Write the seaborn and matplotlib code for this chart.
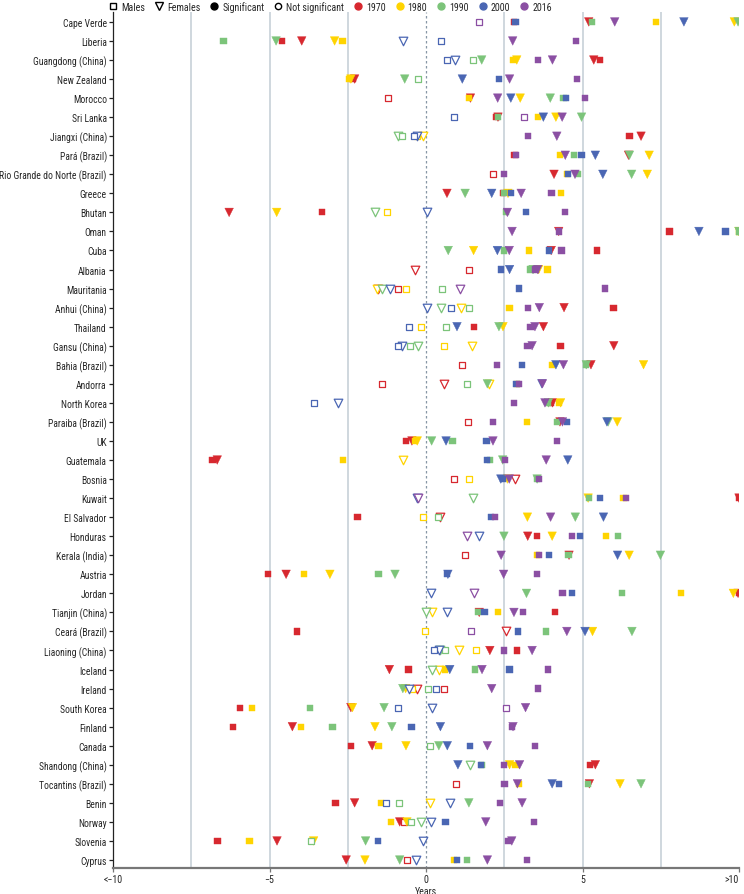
import matplotlib
matplotlib.use("Agg")
import matplotlib.pyplot as plt
from matplotlib import font_manager as fm
from matplotlib.lines import Line2D
import seaborn as sns
import pandas as pd

countries = ["Cape Verde", "Liberia", "Guangdong (China)", "New Zealand", "Morocco", "Sri Lanka",
             "Jiangxi (China)", "Pará (Brazil)", "Rio Grande do Norte (Brazil)", "Greece", "Bhutan",
             "Oman", "Cuba", "Albania", "Mauritania", "Anhui (China)", "Thailand", "Gansu (China)",
             "Bahia (Brazil)", "Andorra", "North Korea", "Paraiba (Brazil)", "UK", "Guatemala",
             "Bosnia", "Kuwait", "El Salvador", "Honduras", "Kerala (India)", "Austria", "Jordan",
             "Tianjin (China)", "Ceará (Brazil)", "Liaoning (China)", "Iceland", "Ireland",
             "South Korea", "Finland", "Canada", "Shandong (China)", "Tocantins (Brazil)", "Benin",
             "Norway", "Slovenia", "Cyprus"]

years = ["1970", "1980", "1990", "2000", "2016"]
year_colors = ["#d7282f", "#ffd400", "#7cc47a", "#4a66b3", "#8b4fa3"]

# Males (values in years, clipped at +/-10)
m1970 = [2.8, -4.59, 5.56, -2.35, -1.22, 2.25, 6.50, 2.83, 2.13, 2.45, -3.33, 7.78, 5.47, 1.37, -0.90,
         5.99, 1.53, 4.30, 1.14, -1.41, 4.00, 1.35, -0.65, -6.82, 0.91, 10, -2.19, 3.54, 1.26, -5.06,
         10, 4.12, -4.12, 2.90, -0.56, 0.58, -5.93, -6.17, -2.40, 5.24, 0.96, -2.89, -0.71, -6.66, -0.61]
m1980 = [7.34, -2.67, 2.78, -2.45, 1.38, 3.57, -0.30, 4.27, 4.50, 4.32, -1.26, 10, 3.30, 3.88, -0.65,
         2.67, -0.17, 0.56, 4.03, 2.90, 4.25, 3.22, -0.35, -2.64, 1.38, 6.31, -0.08, 5.76, 3.55, -3.89,
         8.15, 2.29, -0.03, 1.60, 0.61, -0.45, -5.56, -4.00, -1.52, 2.86, 2.96, -1.44, -1.12, -5.64, 0.90]
m1990 = [5.30, -6.47, 1.49, -0.24, 4.39, 2.30, -0.76, 4.73, 4.86, 2.50, 2.55, 10, 2.48, 3.34, 0.52,
         1.37, 0.64, -0.52, 5.10, 1.31, 3.90, 4.18, 0.85, 2.05, 3.55, 5.22, 0.38, 6.14, 4.55, -1.52,
         6.25, 1.65, 3.83, 0.62, 1.57, 0.06, -3.71, -2.99, 0.12, 1.80, 5.18, -0.85, -0.47, -3.68, 1.32]
m2000 = [2.86, 0.49, 0.68, 2.33, 4.48, 0.90, -0.38, 4.97, 4.53, 2.72, 3.19, 9.57, 3.92, 2.39, 2.98,
         0.79, -0.55, -0.91, 3.07, 2.89, -3.59, 4.51, 1.93, 1.96, 2.45, 5.55, 2.08, 4.91, 3.94, 0.66,
         4.67, 1.87, 2.93, 0.26, 2.67, 0.33, -0.91, -0.46, 1.40, 1.75, 4.24, -1.29, 0.62, -1.53, 1.00]
m2016 = [1.70, 4.80, 3.59, 4.82, 5.08, 3.12, 3.27, 2.88, 2.48, 4.01, 4.45, 4.24, 4.33, 3.50, 5.73,
         3.27, 3.34, 3.24, 2.28, 2.96, 2.81, 2.13, 4.18, 2.52, 3.60, 6.40, 2.20, 4.67, 3.62, 3.54,
         4.36, 3.10, 1.44, 2.49, 3.91, 3.59, 2.55, 2.75, 3.48, 2.49, 2.51, 2.37, 3.45, 2.63, 3.22]

# Females
f1970 = [5.20, -3.97, 5.36, -2.28, 1.42, 2.30, 6.87, 6.47, 4.09, 0.67, -6.29, 4.24, 4.00, -0.36, -1.52,
         4.41, 3.75, 6.00, 5.27, 0.58, 4.04, 4.28, -0.45, -6.67, 2.84, 10, 0.45, 3.25, 4.57, -4.47,
         9.97, 1.70, 2.55, 2.04, -1.17, -0.29, -2.40, -4.27, -1.72, 5.41, 5.22, -2.28, -0.84, -4.76, -2.55]
f1980 = [9.85, -2.92, 2.90, -2.40, 3.01, 4.15, -0.11, 7.13, 7.07, 2.62, -4.77, 10, 1.52, 3.60, -1.57,
         1.11, 2.46, 1.47, 6.95, 2.00, 4.30, 6.11, -0.28, -0.74, 2.60, 5.18, 3.24, 4.03, 6.49, -3.07,
         9.82, 0.18, 5.32, 1.05, 0.40, -0.65, -2.35, -1.63, -0.64, 2.67, 6.20, 0.14, -0.61, -3.59, -1.95]
f1990 = [9.97, -4.79, 1.78, -0.68, 3.97, 4.97, -0.90, 6.50, 6.57, 1.25, -1.64, 10, 0.71, 3.42, -1.40,
         0.47, 2.33, -0.24, 5.12, 1.96, 3.91, 5.82, 0.18, 2.45, 3.55, 1.49, 4.77, 2.49, 7.49, -0.99,
         3.21, 0.00, 6.58, 0.45, 0.18, -0.74, -1.34, -1.09, 0.41, 1.41, 6.87, 1.37, -0.15, -1.93, -0.84]
f2000 = [8.24, -0.73, 0.93, 1.16, 2.71, 3.75, -0.29, 5.41, 5.65, 2.10, 0.02, 8.72, 2.28, 2.67, -1.14,
         0.03, 0.99, -0.76, 4.15, 3.70, -2.80, 5.78, 0.64, 4.53, 2.39, -0.30, 5.67, 1.70, 6.12, 0.70,
         0.15, 0.67, 5.08, 0.41, 0.76, -0.55, 0.18, 0.46, 0.68, 1.02, 4.03, 0.76, 0.15, -0.09, -0.32]
f2016 = [6.03, 2.77, 4.04, 2.67, 2.29, 4.35, 4.18, 4.45, 4.76, 3.04, 2.60, 2.75, 2.66, 3.57, 1.09,
         3.62, 3.48, 3.39, 4.39, 3.72, 3.80, 4.36, 2.14, 3.84, 2.66, -0.27, 3.98, 1.32, 2.40, 2.48,
         1.52, 2.81, 4.50, 3.39, 1.79, 2.10, 3.18, 2.78, 1.96, 2.99, 2.92, 3.07, 1.91, 2.74, 1.96]

# Significance flags (1 = significant, 0 = not significant), one per country
m1970_sig = "11110 11101 11100 11100 10110 11101 11111 01111 01010"
m1980_sig = "11111 10111 01110 10011 11110 10111 11001 01111 11111"
m1990_sig = "11001 10111 11110 00010 11111 10111 11101 01101 10001"
m2000_sig = "10011 00111 11111 00011 01111 11111 11101 00111 10111"
m2016_sig = "01111 01111 11111 11111 11111 11111 11011 10111 11111"
f1970_sig = "11111 11111 11100 11110 11110 10111 11011 01111 11111"
f1980_sig = "11111 10111 11110 01010 11101 11111 10100 11111 10111"
f1990_sig = "11111 10111 01110 01011 11111 01111 10100 11110 11011"
f2000_sig = "10011 10111 01110 01011 01111 01011 00101 00111 10000"
f2016_sig = "11111 11111 11110 11111 11111 01011 01111 11111 11111"

xticks = [-10, -5, 0, 5, 10]
xticklabels = ["<\u221210", "\u22125", "0", "5", ">10"]

series = {
    ("Males", "1970"): (m1970, m1970_sig), ("Males", "1980"): (m1980, m1980_sig),
    ("Males", "1990"): (m1990, m1990_sig), ("Males", "2000"): (m2000, m2000_sig),
    ("Males", "2016"): (m2016, m2016_sig),
    ("Females", "1970"): (f1970, f1970_sig), ("Females", "1980"): (f1980, f1980_sig),
    ("Females", "1990"): (f1990, f1990_sig), ("Females", "2000"): (f2000, f2000_sig),
    ("Females", "2016"): (f2016, f2016_sig),
}

rows = []
for (sex, yr), (vals, sig) in series.items():
    flags = sig.replace(" ", "")
    for i, (c, v) in enumerate(zip(countries, vals)):
        rows.append(dict(country=c, row=i, sex=sex, year=yr, value=v, sig=flags[i] == "1"))
df = pd.DataFrame(rows)

sns.set_theme(style="white")

# pick a narrow font if one is installed
family, stretch = "DejaVu Sans", "condensed"
for fam in ["Roboto Condensed", "Liberation Sans Narrow", "Noto Sans Condensed",
            "Open Sans Condensed", "DejaVu Sans Condensed", "Noto Sans", "Open Sans",
            "DejaVu Sans", "Roboto"]:
    try:
        path = fm.findfont(fm.FontProperties(family=fam, stretch="condensed"),
                           fallback_to_default=False)
    except Exception:
        continue
    if any(k in path.lower() for k in ("condensed", "narrow")):
        family = fam
        break
plt.rcParams["font.family"] = [family, "DejaVu Sans"]
plt.rcParams["font.stretch"] = stretch

fs = 7.2

fig = plt.figure(figsize=(7.44, 8.95), dpi=100)
ax = fig.add_axes([113 / 744, 26 / 895, (739 - 113) / 744, (869 - 13) / 895])

for gx in [-7.5, -5, -2.5, 2.5, 5, 7.5]:
    ax.axvline(gx, color="#ccd4db", lw=1.3, zorder=0)
ax.axvline(0, color="#8797a6", lw=0.9, ls=(0, (2, 2)), zorder=0)

palette = dict(zip(years, year_colors))
markers = {"Males": "s", "Females": "v"}
sizes = {"Males": 20, "Females": 38}

for yr in years:
    for sex in ["Females", "Males"]:
        for sig in [False, True]:
            sub = df[(df.year == yr) & (df.sex == sex) & (df.sig == sig)]
            if sub.empty:
                continue
            col = palette[yr]
            sns.scatterplot(data=sub, x="value", y="row", hue="year", palette=palette,
                            marker=markers[sex], s=sizes[sex], legend=False, ax=ax,
                            linewidth=0.9 if not sig else 0.3, zorder=3)
            coll = ax.collections[-1]
            if sig:
                coll.set_edgecolor(col)
            else:
                coll.set_facecolor("white")
                coll.set_edgecolor(col)

ax.set_xlim(-10, 10)
ax.set_ylim(44.42, -0.52)
ax.set_yticks(range(len(countries)))
ax.set_yticklabels(countries, fontsize=fs)
ax.set_xticks(xticks)
ax.set_xticklabels(xticklabels, fontsize=fs)
ax.set_xlabel("Years", fontsize=fs, labelpad=1)
ax.set_ylabel("")
for s in ["top", "right"]:
    ax.spines[s].set_visible(False)
ax.spines["left"].set_color("#222222")
ax.spines["left"].set_linewidth(0.9)
ax.spines["bottom"].set_color("#777777")
ax.spines["bottom"].set_linewidth(1.6)
ax.tick_params(axis="y", left=True, length=3, width=0.9, color="#222222", pad=1.5)
ax.tick_params(axis="x", bottom=True, length=3, width=0.9, color="#777777", pad=1.5)
for lbl in ax.get_xticklabels():
    if lbl.get_text().startswith(">"):
        lbl.set_horizontalalignment("right")
        lbl.set_x(10)

# shrink country labels if the longest one would not fit left of the axis
fig.canvas.draw()
renderer = fig.canvas.get_renderer()
widest = max(t.get_window_extent(renderer).width for t in ax.get_yticklabels())
avail = 113 - 3 - 2 - 2
yfs = fs
if widest > avail:
    yfs = fs * avail / widest
    for t in ax.get_yticklabels():
        t.set_fontsize(yfs)

handles = [
    Line2D([], [], ls="", marker="s", mfc="white", mec="black", ms=4.5, mew=1),
    Line2D([], [], ls="", marker="v", mfc="white", mec="black", ms=6, mew=1),
    Line2D([], [], ls="", marker="o", mfc="black", mec="black", ms=5),
    Line2D([], [], ls="", marker="o", mfc="white", mec="black", ms=4.5, mew=1),
] + [Line2D([], [], ls="", marker="o", mfc=c, mec=c, ms=5) for c in year_colors]
labels = ["Males", "Females", "Significant", "Not significant"] + years
fig.legend(handles, labels, loc="upper left", bbox_to_anchor=(109 / 744, 0.998), ncol=9,
           frameon=False, handlelength=0.8, handletextpad=0.4,
           columnspacing=1.0, borderpad=0, borderaxespad=0,
           prop=dict(family=[family, "DejaVu Sans"], size=fs, stretch=stretch))

fig.savefig("out.png", dpi=100)
